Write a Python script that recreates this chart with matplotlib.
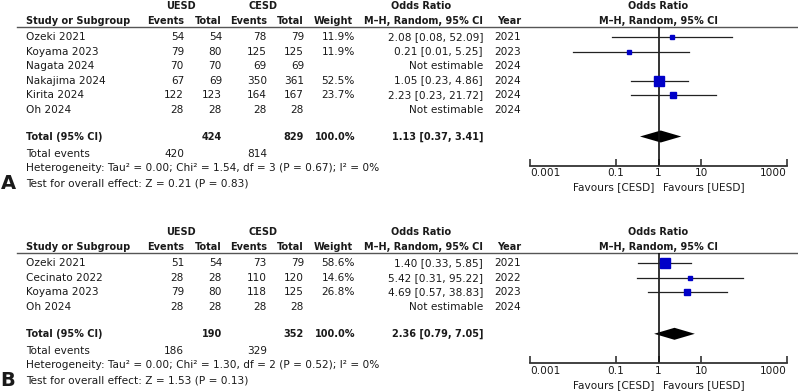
import numpy as np
import matplotlib
matplotlib.use("Agg")
import matplotlib.pyplot as plt
from matplotlib.ticker import FixedLocator, FixedFormatter, NullLocator

# panel A data
studies_a = ['Ozeki 2021', 'Koyama 2023', 'Nagata 2024', 'Nakajima 2024', 'Kirita 2024', 'Oh 2024']
uesd_events_a = [54, 79, 70, 67, 122, 28]
uesd_total_a = [54, 80, 70, 69, 123, 28]
cesd_events_a = [78, 125, 69, 350, 164, 28]
cesd_total_a = [79, 125, 69, 361, 167, 28]
weight_a = [11.9, 11.9, None, 52.5, 23.7, None]
or_a = [2.08, 0.21, None, 1.05, 2.23, None]
lo_a = [0.08, 0.01, None, 0.23, 0.23, None]
hi_a = [52.09, 5.25, None, 4.86, 21.72, None]
year_a = [2021, 2023, 2024, 2024, 2024, 2024]
total_a = dict(ut=424, ct=829, ue=420, ce=814, est=1.13, lo=0.37, hi=3.41)
het_a = 'Heterogeneity: Tau² = 0.00; Chi² = 1.54, df = 3 (P = 0.67); I² = 0%'
test_a = 'Test for overall effect: Z = 0.21 (P = 0.83)'

# panel B data
studies_b = ['Ozeki 2021', 'Cecinato 2022', 'Koyama 2023', 'Oh 2024']
uesd_events_b = [51, 28, 79, 28]
uesd_total_b = [54, 28, 80, 28]
cesd_events_b = [73, 110, 118, 28]
cesd_total_b = [79, 120, 125, 28]
weight_b = [58.6, 14.6, 26.8, None]
or_b = [1.40, 5.42, 4.69, None]
lo_b = [0.33, 0.31, 0.57, None]
hi_b = [5.85, 95.22, 38.83, None]
year_b = [2021, 2022, 2023, 2024]
total_b = dict(ut=190, ct=352, ue=186, ce=329, est=2.36, lo=0.79, hi=7.05)
het_b = 'Heterogeneity: Tau² = 0.00; Chi² = 1.30, df = 2 (P = 0.52); I² = 0%'
test_b = 'Test for overall effect: Z = 1.53 (P = 0.13)'

tick_vals = [0.001, 0.1, 1, 10, 1000]
tick_labels = ['0.001', '0.1', '1', '10', '1000']

W, H = 798, 392
TXT = '#1a1a1a'
FS = 7.6
FSB = 7.0
BLUE = '#0000c8'
ROW = 14.5

fig = plt.figure(figsize=(W / 100, H / 100), dpi=100)
ov = fig.add_axes([0, 0, 1, 1])
ov.set_xlim(0, W)
ov.set_ylim(H, 0)
ov.axis('off')


def t(x, y, s, ha='left', bold=False, size=None):
    if size is None:
        size = FSB if bold else FS
    ov.text(x, y, s, ha=ha, va='center', fontsize=size, color=TXT,
            fontweight='bold' if bold else 'normal')


def panel(top, label, studies, ue, ut, ce, ct, wt, est, lo, hi, yr, tot, het, test):
    h2 = top + 14.7
    line_y = top + 21
    rows = [top + 31 + i * ROW for i in range(len(studies))]
    tot_y = rows[-1] + 27
    ev_y = tot_y + 17
    het_y = ev_y + 14.5
    test_y = het_y + 15
    axis_y = tot_y + 29

    # headers
    t(181, top, 'UESD', 'center', True)
    t(263, top, 'CESD', 'center', True)
    t(421, top, 'Odds Ratio', 'center', True)
    t(658, top, 'Odds Ratio', 'center', True)
    t(26, h2, 'Study or Subgroup', bold=True)
    for x, s in [(184, 'Events'), (222, 'Total'), (267, 'Events'), (304, 'Total'),
                 (353, 'Weight'), (483, 'M–H, Random, 95% CI'), (521, 'Year')]:
        t(x, h2, s, 'right', True)
    t(658, h2, 'M–H, Random, 95% CI', 'center', True)
    ov.plot([17, W], [line_y, line_y], color='#555555', lw=1)

    for i, y in enumerate(rows):
        t(26, y, studies[i])
        t(184, y, str(ue[i]), 'right')
        t(222, y, str(ut[i]), 'right')
        t(267, y, str(ce[i]), 'right')
        t(304, y, str(ct[i]), 'right')
        if wt[i] is not None:
            t(355, y, f'{wt[i]:.1f}%', 'right')
            t(483, y, f'{est[i]:.2f} [{lo[i]:.2f}, {hi[i]:.2f}]', 'right')
        else:
            t(483, y, 'Not estimable', 'right')
        t(521, y, str(yr[i]), 'right')

    t(26, tot_y, 'Total (95% CI)', bold=True)
    t(222, tot_y, str(tot['ut']), 'right', True)
    t(304, tot_y, str(tot['ct']), 'right', True)
    t(355, tot_y, '100.0%', 'right', True)
    t(483, tot_y, f"{tot['est']:.2f} [{tot['lo']:.2f}, {tot['hi']:.2f}]", 'right', True)
    t(26, ev_y, 'Total events')
    t(184, ev_y, str(tot['ue']), 'right')
    t(267, ev_y, str(tot['ce']), 'right')
    t(26, het_y, het)
    t(26, test_y, test)
    t(8, test_y, label, 'center', True, 14)

    # forest plot
    x0, x1 = 530, 787
    ax = fig.add_axes([x0 / W, (H - axis_y) / H, (x1 - x0) / W, (axis_y - line_y) / H])
    ax.set_xscale('log')
    ax.set_xlim(0.001, 1000)
    ax.set_ylim(axis_y, line_y)
    ax.patch.set_alpha(0)
    for s in ['top', 'left', 'right']:
        ax.spines[s].set_visible(False)
    ax.spines['bottom'].set_color('#333333')
    ax.spines['bottom'].set_linewidth(1.3)
    ax.xaxis.set_major_locator(FixedLocator(tick_vals))
    ax.xaxis.set_major_formatter(FixedFormatter(tick_labels))
    ax.xaxis.set_minor_locator(NullLocator())
    ax.tick_params(axis='x', direction='in', length=5, width=1.2, color='#333333',
                   labelsize=FS, labelcolor=TXT, pad=2)
    labs = ax.get_xticklabels()
    labs[0].set_ha('left')
    labs[-1].set_ha('right')
    ax.set_yticks([])
    ax.axvline(1, color='#111111', lw=1.2)

    for i, y in enumerate(rows):
        if wt[i] is None:
            continue
        ax.plot([lo[i], hi[i]], [y, y], color='#222222', lw=0.9)
        side = 1.25 * np.sqrt(wt[i]) * 0.72
        ax.plot([est[i]], [y], marker='s', ms=side, color=BLUE, mec=BLUE, lw=0)

    dh = 6
    ax.fill([tot['lo'], tot['est'], tot['hi'], tot['est']],
            [tot_y, tot_y - dh, tot_y, tot_y + dh], color='black', lw=0)

    fav_y = axis_y + 22
    t(654, fav_y, 'Favours [CESD]', 'right')
    t(663, fav_y, 'Favours [UESD]', 'left')


panel(6, 'A', studies_a, uesd_events_a, uesd_total_a, cesd_events_a, cesd_total_a,
      weight_a, or_a, lo_a, hi_a, year_a, total_a, het_a, test_a)
panel(232.3, 'B', studies_b, uesd_events_b, uesd_total_b, cesd_events_b, cesd_total_b,
      weight_b, or_b, lo_b, hi_b, year_b, total_b, het_b, test_b)

fig.savefig('out.png', dpi=100)
